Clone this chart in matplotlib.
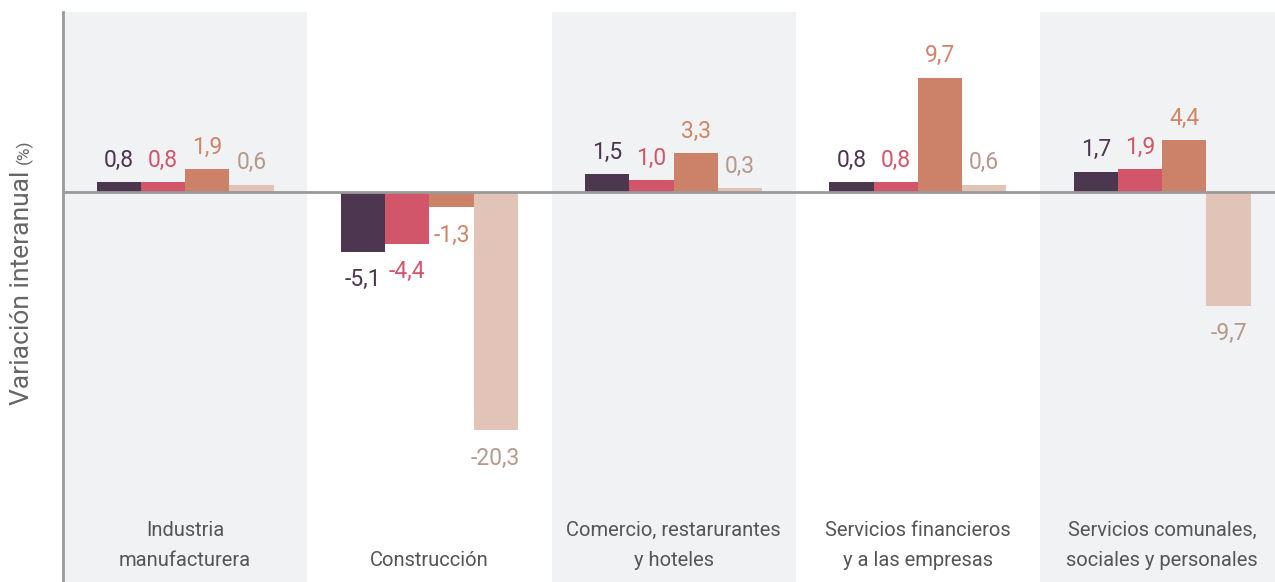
import matplotlib.pyplot as plt
import numpy as np

categories = ['Industria\nmanufacturera', 'Construcción', 'Comercio, restarurantes\ny hoteles',
              'Servicios financieros\ny a las empresas', 'Servicios comunales,\nsociales y personales']
serie_1 = [0.8, -5.1, 1.5, 0.8, 1.7]
serie_2 = [0.8, -4.4, 1.0, 0.8, 1.9]
serie_3 = [1.9, -1.3, 3.3, 9.7, 4.4]
serie_4 = [0.6, -20.3, 0.3, 0.6, -9.7]

bar_colors = ['#4d3650', '#d2566a', '#cc8268', '#e2c3b7']
text_colors = ['#4d3650', '#d2566a', '#d08568', '#b5998f']

plt.rcParams['font.family'] = ['Roboto', 'DejaVu Sans']

fig = plt.figure(figsize=(12.75, 5.82), dpi=100)
ax = fig.add_axes([63 / 1275, 0, 1 - 63 / 1275, 1 - 12 / 582])

n = len(categories)
x = np.arange(n)
width = 0.181

# grey bands behind groups 1, 3, 5
for i in range(0, n, 2):
    ax.axvspan(i - 0.5, i + 0.5, color='#f1f2f4', zorder=0, lw=0)

for k, serie in enumerate([serie_1, serie_2, serie_3, serie_4]):
    pos = x + (k - 1.5) * width
    ax.bar(pos, serie, width, color=bar_colors[k], zorder=2)
    for px, v in zip(pos, serie):
        label = ('%.1f' % v).replace('.', ',')
        off = 22 if v >= 0 else -28
        ax.annotate(label, (px, v), xytext=(0, off), textcoords='offset pixels',
                    ha='center', va='center', fontsize=16.5, color=text_colors[k])

# category names sit at the bottom of each band, last lines aligned
for i, c in enumerate(categories):
    ax.text(i, -32.2, c, ha='center', va='bottom', fontsize=14.5, color='#555555',
            linespacing=1.75)

ax.axhline(0, color='#9a9a9a', lw=2, zorder=3)
ax.set_xlim(-0.5, -0.5 + (1275 - 63) / 244.25)
ax.set_ylim(-33.2, 15.3)
ax.set_xticks([])
ax.set_yticks([])
for s in ['top', 'right', 'bottom']:
    ax.spines[s].set_visible(False)
ax.spines['left'].set_color('#9a9a9a')
ax.spines['left'].set_linewidth(2)

fig.text(22 / 1275, 1 - 405 / 582, 'Variación interanual', rotation=90, ha='center',
         va='bottom', fontsize=19, color='#666666')
fig.text(24 / 1275, 1 - 164 / 582, '(%)', rotation=90, ha='center', va='bottom',
         fontsize=12.5, color='#666666')

fig.savefig('out.png', dpi=100)
